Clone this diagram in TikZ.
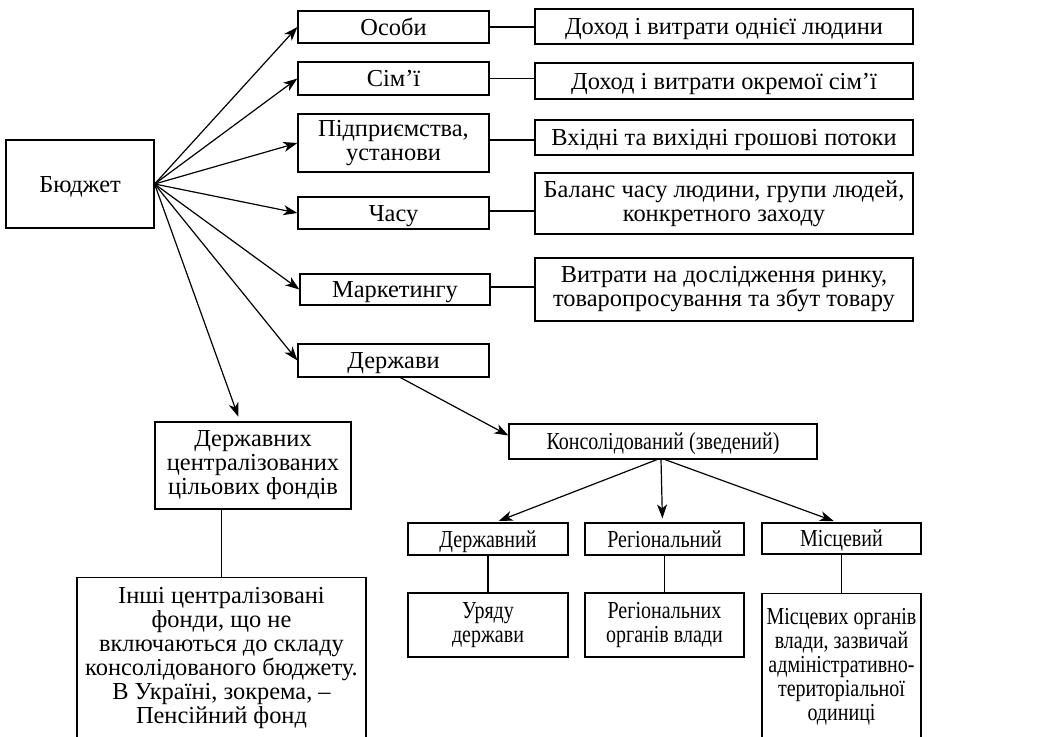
\documentclass[tikz,border=0pt]{standalone}
\usepackage{fontspec}
\setmainfont{Liberation Serif}
\newfontfamily\condserif{Liberation Serif}[FakeStretch=0.82]
\usetikzlibrary{arrows.meta}
\newcommand\diagfont{\fontsize{24.4}{24}\selectfont}
\newcommand\conddiagfont{\condserif\fontsize{24.4}{24}\selectfont}
\begin{document}
\begin{tikzpicture}[x=1pt,y=-1pt,
  box/.style={draw, line width=1.2pt, inner sep=0pt, align=center, font=\diagfont},
  one/.style={text height=16pt, text depth=0pt},
  cbox/.style={box, font=\conddiagfont},
  txt/.style={inner sep=0pt, align=center, font=\diagfont},
  arr/.style={line width=1.2pt, -{Stealth[length=14pt,width=10pt,inset=4pt]}},
  ln/.style={line width=1.2pt}]
\useasboundingbox (0,0) rectangle (1043,736);
% left column
\node[box, one, minimum width=148pt, minimum height=88pt] (budget) at (80,184) {Бюджет};
\node[box, one, minimum width=191pt, minimum height=32pt] (osoby) at (393.5,27) {Особи};
\node[box, one, minimum width=191pt, minimum height=33pt] (simi) at (393.5,78.5) {Сім’ї};
\node[box, minimum width=191pt, minimum height=58pt] (pidpr) at (393.5,143) {Підприємства,\\установи};
\node[box, one, minimum width=191pt, minimum height=32pt] (chasu) at (393.5,213) {Часу};
\node[box, one, minimum width=190pt, minimum height=31pt] (market) at (395,289.5) {Маркетингу};
\node[box, one, minimum width=191pt, minimum height=33pt] (derzh) at (393.5,360.5) {Держави};
% right column
\node[box, one, minimum width=378pt, minimum height=35pt] (r1) at (724,26.5) {Доход і витрати однієї людини};
\node[box, one, minimum width=378pt, minimum height=36pt] (r2) at (724,81) {Доход і витрати окремої сім’ї};
\node[box, one, minimum width=378pt, minimum height=35pt] (r3) at (724,137.5) {Вхідні та вихідні грошові потоки};
\node[box, minimum width=378pt, minimum height=61pt] (r4) at (724,203.5) {Баланс часу людини, групи людей,\\конкретного заходу};
\node[box, minimum width=378pt, minimum height=63pt] (r5) at (724,289.5) {Витрати на дослідження ринку,\\товаропросування та збут товару};
% funds
\node[box, minimum width=196pt, minimum height=87pt] (fondy) at (253,465.5) {Державних\\централізованих\\цільових фондів};
\node[draw, line width=1.2pt, inner sep=0pt, minimum width=289pt, minimum height=190pt, anchor=north] (inshi) at (221.5,577) {};
\node[txt] (inshit) at (221.5,658.5) {Інші централізовані\\фонди, що не\\включаються до складу\\консолідованого бюджету.\\В Україні, зокрема, –\\Пенсійний фонд};
% consolidated
\node[cbox, one, minimum width=308pt, minimum height=35pt] (kons) at (663,441.5) {Консолідований (зведений)};
\node[cbox, one, minimum width=160pt, minimum height=32pt] (dvn) at (488,539) {Державний};
\node[cbox, one, minimum width=159pt, minimum height=32pt] (reg) at (664.5,539) {Регіональний};
\node[cbox, one, minimum width=159pt, minimum height=31pt] (misc) at (841.5,538.5) {Місцевий};
\node[cbox, minimum width=160pt, minimum height=64pt] (uriad) at (488,625) {Уряду\\держави};
\node[cbox, minimum width=159pt, minimum height=64pt] (regorg) at (664.5,625) {Регіональних\\органів влади};
\node[draw, line width=1.2pt, inner sep=0pt, minimum width=159pt, minimum height=190pt, anchor=north] (miscorg) at (841.5,593) {};
\node[txt, font=\conddiagfont] (miscorgt) at (841.5,667) {Місцевих органів\\влади, зазвичай\\адміністративно-\\територіальної\\одиниці};
% arrows from budget
\draw[arr] (budget.east) -- (osoby.west);
\draw[arr] (budget.east) -- (simi.west);
\draw[arr] (budget.east) -- (pidpr.west);
\draw[arr] (budget.east) -- (chasu.west);
\draw[arr] (budget.east) -- (market.west);
\draw[arr] (budget.east) -- (derzh.west);
\draw[arr, shorten >=5pt] (budget.east) -- ([xshift=-13pt]fondy.north);
% horizontal links
\draw[ln] (osoby.east) -- (osoby.east -| r1.west);
\draw[ln] (simi.east) -- (simi.east -| r2.west);
\draw[ln] ([yshift=3pt]pidpr.east) -- ([yshift=3pt]pidpr.east -| r3.west);
\draw[ln] ([yshift=2pt]chasu.east) -- ([yshift=2pt]chasu.east -| r4.west);
\draw[ln] ([yshift=2.5pt]market.east) -- ([yshift=2.5pt]market.east -| r5.west);
% state
\draw[arr] ([xshift=7pt]derzh.south) -- ([yshift=6pt]kons.west);
\draw[arr, shorten >=4pt] ([xshift=-6pt]kons.south) -- ([xshift=7pt]dvn.north);
\draw[arr, shorten >=4pt] ([xshift=-2pt]kons.south) -- ([xshift=-2pt]reg.north);
\draw[arr, shorten >=4pt] ([xshift=2pt]kons.south) -- ([xshift=-4pt]misc.north);
% vertical links
\draw[ln] (fondy.south -| inshi.north) -- (inshi.north);
\draw[ln] (dvn.south) -- (uriad.north);
\draw[ln] (reg.south) -- (regorg.north);
\draw[ln] (misc.south) -- (miscorg.north);
\end{tikzpicture}
\end{document}
